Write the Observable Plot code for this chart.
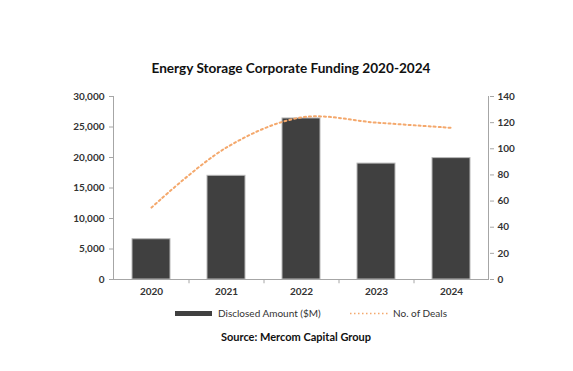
<!DOCTYPE html>
<html><head><meta charset="utf-8">
<script src="https://cdn.jsdelivr.net/npm/d3@7"></script>
<script src="https://cdn.jsdelivr.net/npm/@observablehq/plot@0.6"></script>
<style>
body{margin:0;background:#fff;font-family:Lato,"Open Sans",sans-serif;}
#wrap{position:relative;width:573px;height:371px;overflow:hidden;background:#fff}
#title{position:absolute;left:0;width:582px;top:59px;text-align:center;font-weight:bold;font-size:13.6px;color:#111;line-height:18px}
#chart{position:absolute;left:0;top:80px}
#legend{position:absolute;top:306px;left:0;width:573px;height:14px;font-size:10px;color:#333}
#legend svg{position:absolute;top:0;left:0}
#source{position:absolute;left:0;width:592px;top:329px;text-align:center;font-weight:bold;font-size:11px;color:#111;line-height:16px}
</style></head><body>
<div id="wrap">
<div id="title">Energy Storage Corporate Funding 2020-2024</div>
<div id="chart"></div>
<div id="legend"></div>
<div id="source">Source: Mercom Capital Group</div>
</div>
<script>
const years = ["2020", "2021", "2022", "2023", "2024"];
const amounts = [6600, 17000, 26400, 19000, 19900];
const deals = [55, 101, 124, 120, 116];
const leftTicks = [0, 5000, 10000, 15000, 20000, 25000, 30000];
const rightTicks = [0, 20, 40, 60, 80, 100, 120, 140];
const leftMax = 30000, rightMax = 140;
const seriesNames = ["Disclosed Amount ($M)", "No. of Deals"];

const k = leftMax / rightMax;
const rows = years.map((y, i) => ({year: y, amount: amounts[i], deals: deals[i], dealsScaled: deals[i] * k}));
const axisColor = "#a6a6a6";
const barColor = "#404040";
const lineColor = "#f4a86c";

const chart = Plot.plot({
  width: 573,
  height: 220,
  marginTop: 16,
  marginBottom: 21,
  marginLeft: 113,
  marginRight: 84,
  style: {fontFamily: "Lato, 'Open Sans', sans-serif", fontSize: "10px", color: "#333", background: "white"},
  x: {domain: years, paddingInner: 0.5, paddingOuter: 0.25, label: null},
  y: {domain: [0, leftMax], label: null},
  marks: [
    Plot.barY(rows, {x: "year", y: "amount", fill: barColor, stroke: "#b8b8b8", strokeWidth: 1}),
    Plot.ruleY([0], {stroke: axisColor, strokeWidth: 1}),
    Plot.ruleX(years.slice(1), {x: d => d, dx: -37.5, y1: 0, y2: -700, stroke: axisColor}),
    Plot.axisX({tickSize: 0, tickPadding: 8, fontWeight: "bold", fill: "#333"}),
    Plot.axisY(leftTicks, {anchor: "left", tickSize: 4, tickPadding: 5, stroke: axisColor, fontWeight: "bold", fill: "#333", tickFormat: d3.format(",")}),
    Plot.axisY(rightTicks.map(v => v * k), {anchor: "right", tickSize: 4, tickPadding: 4, stroke: axisColor, fontWeight: "bold", fill: "#333", tickFormat: v => String(Math.round(v / k))}),
    Plot.line(rows, {x: "year", y: "dealsScaled", curve: "catmull-rom", stroke: lineColor, strokeWidth: 2, strokeDasharray: "2 3"})
  ]
});
document.getElementById("chart").appendChild(chart);

// vertical axis lines (frame edges)
const svg = d3.select(chart);
[113.5, 488.5].forEach(x => {
  svg.append("line").attr("x1", x).attr("x2", x).attr("y1", 16).attr("y2", 199).attr("stroke", axisColor);
});

// legend
const lg = d3.select("#legend").append("svg").attr("width", 573).attr("height", 14);
lg.append("rect").attr("x", 175).attr("y", 5).attr("width", 37).attr("height", 5).attr("fill", barColor);
lg.append("text").attr("x", 218).attr("y", 11).attr("font-size", 10).attr("fill", "#333").text(seriesNames[0]);
lg.append("line").attr("x1", 350).attr("x2", 389).attr("y1", 7.5).attr("y2", 7.5).attr("stroke", lineColor).attr("stroke-width", 1.5).attr("stroke-dasharray", "1.5 2.5");
lg.append("text").attr("x", 393).attr("y", 11).attr("font-size", 10).attr("fill", "#333").text(seriesNames[1]);
</script>
</body></html>
